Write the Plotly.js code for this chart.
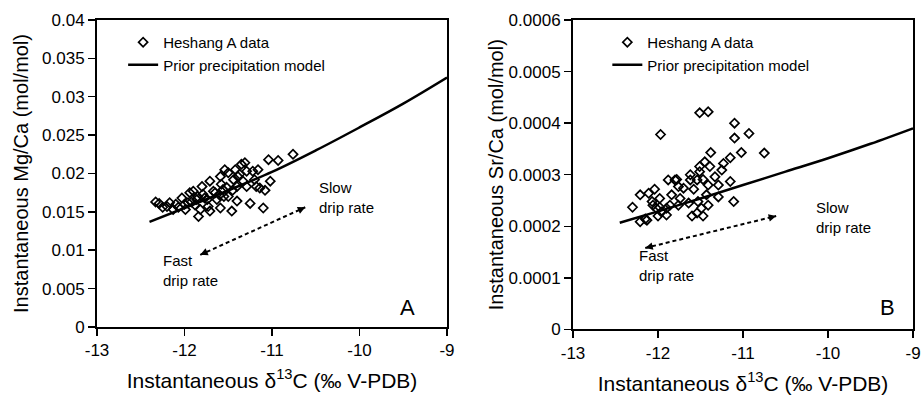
<!DOCTYPE html>
<html>
<head>
<meta charset="utf-8">
<script src="https://cdn.plot.ly/plotly-3.0.1.min.js"></script>
<style>html,body{margin:0;padding:0;background:#fff;}#chart{width:923px;height:399px;}</style>
</head>
<body>
<div id="chart"></div>
<script>
// Panel A: Heshang A data, Mg/Ca vs d13C
const mgX = [-12.29,-12.20,-12.13,-12.03,-11.94,-11.90,-11.80,-11.71,-11.58,-11.54,-11.50,-11.42,-11.35,-11.29,-11.22,-11.16,-11.04,-10.93,-10.76,-11.02,-11.14,-11.18,-11.10,-11.25,-11.40,-11.46,-11.59,-11.71,-11.84,-11.82,-11.50,-11.67,-11.79,-11.86,-11.96,-12.07,-11.99,-11.59,-11.44,-11.37,-11.56,-11.74,-11.63,-11.40,-11.29,-11.88,-12.17,-12.25,-12.33,-11.73,-11.92,-11.65,-11.45,-11.33,-12.10,-11.55,-11.77,-11.20,-11.08,-11.31,-11.39,-12.00,-11.85,-11.60,-11.52];
const mgY = [0.0161,0.0157,0.0153,0.0168,0.0175,0.0177,0.0183,0.0190,0.0186,0.0205,0.0201,0.0205,0.0212,0.0203,0.0203,0.0205,0.0218,0.0217,0.0225,0.0190,0.0181,0.0183,0.0155,0.0161,0.0164,0.0151,0.0155,0.0151,0.0144,0.0153,0.0170,0.0177,0.0173,0.0166,0.0162,0.0156,0.0153,0.0196,0.0192,0.0199,0.0179,0.0166,0.0166,0.0183,0.0183,0.0159,0.0162,0.0156,0.0163,0.0157,0.0163,0.0175,0.0178,0.0190,0.0160,0.0170,0.0168,0.0192,0.0178,0.0214,0.0196,0.0160,0.0170,0.0172,0.0182];
// Panel A: prior precipitation model
const mgModelX = [-12.4,-12.0,-11.5,-11.0,-10.5,-10.0,-9.5,-9.0];
const mgModelY = [0.0137,0.0155,0.0178,0.0202,0.0230,0.0260,0.0291,0.0325];

// Panel B: Heshang A data, Sr/Ca vs d13C
const srX = [-11.51,-11.41,-11.97,-11.10,-10.93,-11.10,-11.02,-10.75,-11.38,-11.15,-11.23,-11.45,-11.39,-11.25,-11.51,-11.62,-11.33,-11.15,-11.29,-11.41,-11.58,-11.76,-11.88,-11.78,-11.70,-12.04,-12.11,-12.21,-12.07,-11.98,-11.84,-11.74,-12.30,-11.98,-11.90,-11.96,-11.86,-11.76,-11.64,-11.53,-11.43,-11.29,-11.11,-11.60,-11.54,-11.47,-11.49,-11.41,-12.15,-12.21,-12.00,-11.90,-12.02,-12.06,-11.51,-11.62,-11.54,-11.47,-12.13,-11.80];
const srY = [0.000420,0.000422,0.000378,0.000400,0.000380,0.000371,0.000343,0.000342,0.000343,0.000333,0.000322,0.000325,0.000316,0.000309,0.000306,0.000300,0.000296,0.000287,0.000280,0.000280,0.000272,0.000277,0.000290,0.000291,0.000274,0.000272,0.000264,0.000261,0.000248,0.000254,0.000261,0.000254,0.000237,0.000237,0.000235,0.000228,0.000241,0.000241,0.000245,0.000248,0.000261,0.000257,0.000248,0.000220,0.000226,0.000220,0.000235,0.000241,0.000214,0.000209,0.000220,0.000222,0.000235,0.000241,0.000316,0.000290,0.000290,0.000291,0.000212,0.000290];
// Panel B: prior precipitation model
const srModelX = [-12.45,-12.0,-11.5,-11.0,-10.5,-10.0,-9.5,-9.0];
const srModelY = [0.000207,0.000229,0.000254,0.000280,0.000306,0.000332,0.000360,0.000390];

// Tick labels
const xTicks = [-13,-12,-11,-10,-9];
const xTickText = ['-13','-12','-11','-10','-9'];
const mgTicks = [0,0.005,0.01,0.015,0.02,0.025,0.03,0.035,0.04];
const mgTickText = ['0','0.005','0.01','0.015','0.02','0.025','0.03','0.035','0.04'];
const srTicks = [0,0.0001,0.0002,0.0003,0.0004,0.0005,0.0006];
const srTickText = ['0','0.0001','0.0002','0.0003','0.0004','0.0005','0.0006'];

const FONT = 'Liberation Sans, Arial, Helvetica, sans-serif';
const mk = {symbol:'diamond-open', size:7, color:'black', line:{width:1.7, color:'black'}};

const traces = [
  {x:mgX, y:mgY, mode:'markers', type:'scatter', name:'Heshang A data', marker:mk, xaxis:'x', yaxis:'y', legend:'legend'},
  {x:mgModelX, y:mgModelY, mode:'lines', type:'scatter', name:'Prior precipitation model', line:{color:'black', width:2.5, shape:'spline'}, xaxis:'x', yaxis:'y', legend:'legend'},
  {x:srX, y:srY, mode:'markers', type:'scatter', name:'Heshang A data', marker:mk, xaxis:'x2', yaxis:'y2', legend:'legend2'},
  {x:srModelX, y:srModelY, mode:'lines', type:'scatter', name:'Prior precipitation model', line:{color:'black', width:2.5, shape:'spline'}, xaxis:'x2', yaxis:'y2', legend:'legend2'}
];

function xax(domain, anchor){
  return {domain:domain, anchor:anchor, range:[-13,-9], tickvals:xTicks, ticktext:xTickText,
    ticks:'outside', ticklen:7, tickwidth:1.5, tickcolor:'black', showline:true, linewidth:2, linecolor:'black', mirror:true,
    showgrid:false, zeroline:false, tickfont:{family:FONT, size:17, color:'black'}, automargin:false,
    title:{text:'Instantaneous δ<sup>13</sup>C (‰ V-PDB)', font:{family:FONT, size:21, color:'black'}, standoff:14}};
}
function yax(domain, anchor, range, tv, tt, title, standoff){
  return {domain:domain, anchor:anchor, range:range, tickvals:tv, ticktext:tt,
    ticks:'outside', ticklen:7, tickwidth:1.5, tickcolor:'black', showline:true, linewidth:2, linecolor:'black', mirror:true,
    showgrid:false, zeroline:false, tickfont:{family:FONT, size:17, color:'black'}, automargin:false,
    title:{text:title, font:{family:FONT, size:20, color:'black'}, standoff:standoff}};
}

const arrowA = {x0:-11.82, y0:0.0094, x1:-10.62, y1:0.0156};
const arrowB = {x0:-12.15, y0:0.000158, x1:-10.61, y1:0.000220};

function heads(a, xr, yr, dx, dy){
  const n = Math.hypot(dx, dy); const ux = dx/n, uy = dy/n; const L = 9;
  return [
    {x:a.x1, y:a.y1, xref:xr, yref:yr, axref:'pixel', ayref:'pixel', ax:-ux*L, ay:-uy*L, showarrow:true, arrowhead:2, arrowsize:1, arrowwidth:1.5, arrowcolor:'black', text:'', standoff:0},
    {x:a.x0, y:a.y0, xref:xr, yref:yr, axref:'pixel', ayref:'pixel', ax:ux*L, ay:uy*L, showarrow:true, arrowhead:2, arrowsize:1, arrowwidth:1.5, arrowcolor:'black', text:'', standoff:0}
  ];
}

const tf = {family:FONT, size:15, color:'black'};
const annotations = [
  {x:-10.49, y:0.01686, xref:'x', yref:'y', text:'Slow<br>drip rate', showarrow:false, xanchor:'left', yanchor:'middle', align:'left', font:tf},
  {x:-12.27, y:0.0073, xref:'x', yref:'y', text:'Fast<br>drip rate', showarrow:false, xanchor:'left', yanchor:'middle', align:'left', font:tf},
  {x:-9.56, y:0.0025, xref:'x', yref:'y', text:'A', showarrow:false, xanchor:'left', yanchor:'middle', font:{family:FONT, size:22, color:'black'}},
  {x:-10.165, y:0.000217, xref:'x2', yref:'y2', text:'Slow<br>drip rate', showarrow:false, xanchor:'left', yanchor:'middle', align:'left', font:tf},
  {x:-12.25, y:0.000125, xref:'x2', yref:'y2', text:'Fast<br>drip rate', showarrow:false, xanchor:'left', yanchor:'middle', align:'left', font:tf},
  {x:-9.41, y:0.000042, xref:'x2', yref:'y2', text:'B', showarrow:false, xanchor:'left', yanchor:'middle', font:{family:FONT, size:22, color:'black'}}
].concat(heads(arrowA,'x','y',105,-47), heads(arrowB,'x2','y2',131,-32));

const shapes = [
  {type:'line', xref:'x', yref:'y', x0:arrowA.x0, y0:arrowA.y0, x1:arrowA.x1, y1:arrowA.y1, line:{color:'black', width:2, dash:'4px,3px'}},
  {type:'line', xref:'x2', yref:'y2', x0:arrowB.x0, y0:arrowB.y0, x1:arrowB.x1, y1:arrowB.y1, line:{color:'black', width:2, dash:'4px,3px'}}
];

const layout = {
  width:923, height:399, margin:{l:0, r:0, t:0, b:0}, paper_bgcolor:'white', plot_bgcolor:'white',
  font:{family:FONT, color:'black'},
  xaxis:xax([0.1051,0.4843],'y'),
  yaxis:yax([0.1805,0.9499],'x',[0,0.04],mgTicks,mgTickText,'Instantaneous Mg/Ca (mol/mol)',8),
  xaxis2:xax([0.6208,0.9892],'y2'),
  yaxis2:yax([0.1742,0.9499],'x2',[0,0.0006],srTicks,srTickText,'Instantaneous Sr/Ca (mol/mol)',0),
  legend:{x:0.1334, y:0.935, xanchor:'left', yanchor:'top', bgcolor:'rgba(0,0,0,0)', font:{family:FONT, size:15, color:'black'}},
  legend2:{x:0.658, y:0.935, xanchor:'left', yanchor:'top', bgcolor:'rgba(0,0,0,0)', font:{family:FONT, size:15, color:'black'}},
  annotations:annotations, shapes:shapes
};

Plotly.newPlot('chart', traces, layout, {displayModeBar:false, staticPlot:true});
</script>
</body>
</html>
